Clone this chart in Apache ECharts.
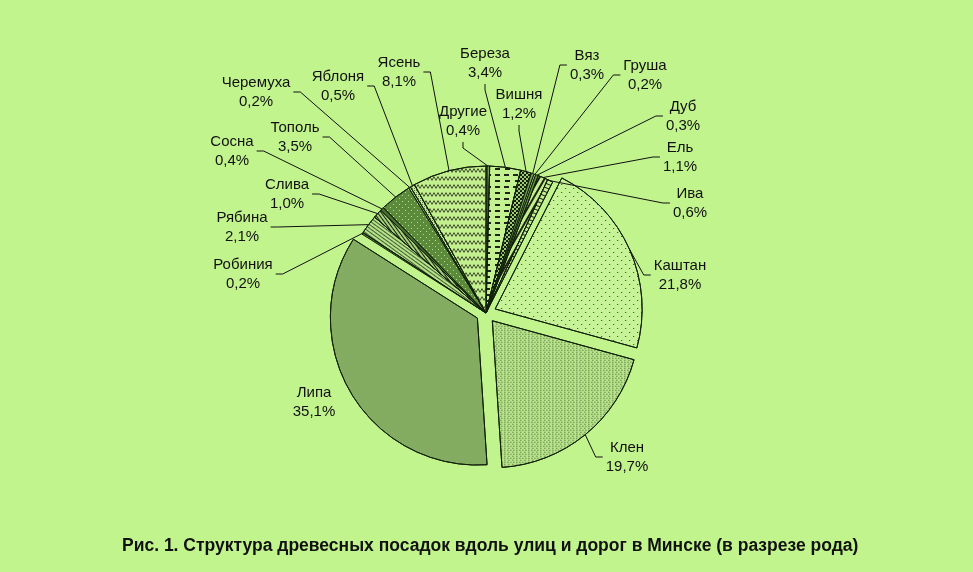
<!DOCTYPE html>
<html>
<head>
<meta charset="utf-8">
<script src="https://cdn.jsdelivr.net/npm/echarts@6/dist/echarts.min.js"></script>
<style>
html,body{margin:0;padding:0;background:#c2f48e;}
#c{width:973px;height:572px;}
</style>
</head>
<body>
<div id="c"></div>
<script>
// ---- data ----
var categories = ['Другие','Береза','Вишня','Вяз','Груша','Дуб','Ель','Ива','Каштан','Клен','Липа','Робиния','Рябина','Слива','Сосна','Тополь','Черемуха','Яблоня','Ясень'];
var values = [0.4, 3.4, 1.2, 0.3, 0.2, 0.3, 1.1, 0.6, 21.8, 19.7, 35.1, 0.2, 2.1, 1.0, 0.4, 3.5, 0.2, 0.5, 8.1];
var explodedNames = ['Каштан','Клен','Липа'];
var titleText = 'Рис. 1. Структура древесных посадок вдоль улиц и дорог в Минске (в разрезе рода)';

// ---- layout (label text block centres and leader-line side) ----
var labelCenters = [
  [463,121],[485,63],[519,104],[587,65],[645,75],[683,116],[680,157],[690,203],
  [680,275],[627,457],[314,402],[243,274],[242,227],[287,194],[232,151],[295,137],
  [256,92],[338,86],[399,72]
];
var labelSides = ['bottom','bottom','bottom','left','left','left','left','left',
  'left','left','none','right','right','right','right','right','right','right','right'];
var EXPLODE = 10;
var PIE_CENTER = [486, 313];
var PIE_R = 147;

// ---- styles ----
var BK = 'rgba(0,0,0,0.85)';
var sliceStyles = [
  {c:'#33521f', d:{symbol:'rect',color:'rgba(190,240,140,0.45)',dashArrayX:[1,1],dashArrayY:[1,0]}},
  {c:'#c4f292', d:{symbol:'rect',color:BK,dashArrayX:[[5,4],[0,4.5,5,0]],dashArrayY:[1.2,4]}},
  {c:'#9ccc74', d:{symbol:'rect',color:BK,dashArrayX:[[2,2],[0,2,2,0]],dashArrayY:[2,0]}},
  {c:'#6f9e50', d:null},
  {c:'#a6d67c', d:null},
  {c:'#5f8e40', d:null},
  {c:'#c2f08e', d:{symbol:'rect',color:BK,dashArrayX:[1,0],dashArrayY:[1.6,2.8],rotation:-Math.PI/3}},
  {c:'#c2f08e', d:{symbol:'rect',color:BK,dashArrayX:[1,0],dashArrayY:[1,2.5],rotation:Math.PI/8}},
  {c:'#c6f396', d:{symbol:'rect',color:'rgba(0,0,0,0.75)',dashArrayX:[[1,7],[0,4,1,3]],dashArrayY:[1,3]}},
  {c:'#b6e488', d:{symbol:'rect',color:'rgba(0,0,0,0.6)',dashArrayX:[[1,2],[0,1.5,1,0.5]],dashArrayY:[1,1]}},
  {c:'#a8d47e', d:{symbol:'rect',color:'rgba(20,45,10,0.48)',dashArrayX:[[1,1],[0,1,1,0]],dashArrayY:[1,0]}},
  {c:'#4f7a34', d:null},
  {c:'#b4e488', d:{symbol:'rect',color:'rgba(0,0,0,0.6)',dashArrayX:[1,0],dashArrayY:[1,2],rotation:Math.PI/5}},
  {c:'#a4d27a', d:{symbol:'rect',color:BK,dashArrayX:[1,1.2],dashArrayY:[1,0],rotation:-Math.PI/5}},
  {c:'#476e2e', d:null},
  {c:'#5a8a3a', d:{symbol:'rect',color:'rgba(205,245,160,0.8)',dashArrayX:[[1,5],[0,3,1,2]],dashArrayY:[1,2]}},
  {c:'#b8e88a', d:null},
  {c:'#bfee8e', d:{symbol:'rect',color:'rgba(0,0,0,0.5)',dashArrayX:[1,1],dashArrayY:[1,1]}},
  {c:'#c2f08e', d:{symbol:'path://M0,3 L2,0 L4,3 L6,0 L8,3 L8,4.2 L6,1.2 L4,4.2 L2,1.2 L0,4.2 Z',symbolSize:1,symbolKeepAspect:false,color:'rgba(0,0,0,0.8)',dashArrayX:[8,0],dashArrayY:[4.2,2.6]}}
];

function fmt(v){ return v.toFixed(1).replace('.', ',') + '%'; }
var FONT = 'Liberation Sans, Arial, sans-serif';

// main (drawn) slices
var pieData = categories.map(function(name, i){
  var st = sliceStyles[i];
  var item = {
    name: name,
    value: values[i],
    selected: explodedNames.indexOf(name) >= 0,
    itemStyle: {color: st.c, borderColor: '#10200a', borderWidth: 1}
  };
  if (st.d) item.itemStyle.decal = st.d;
  return item;
});

// transparent overlay that carries the labels and leader lines
var labelData = categories.map(function(name, i){
  var item = {name: name, value: values[i], itemStyle: {color: 'rgba(0,0,0,0)', borderWidth: 0}};
  if (labelSides[i] === 'none') item.labelLine = {show: false};
  return item;
});

var chart = echarts.init(document.getElementById('c'), null, {renderer: 'canvas'});
chart.setOption({
  backgroundColor: '#c2f48e',
  animation: false,
  title: {
    text: titleText,
    left: 117,
    top: 532,
    textStyle: {fontFamily: FONT, fontSize: 17.5, fontWeight: 'bold', color: '#111'}
  },
  series: [{
    type: 'pie',
    center: PIE_CENTER,
    radius: PIE_R,
    startAngle: 90,
    clockwise: true,
    selectedMode: 'multiple',
    selectedOffset: EXPLODE,
    avoidLabelOverlap: false,
    emphasis: {disabled: true},
    label: {show: false},
    labelLine: {show: false},
    data: pieData
  }, {
    type: 'pie',
    center: PIE_CENTER,
    radius: PIE_R,
    startAngle: 90,
    clockwise: true,
    silent: true,
    avoidLabelOverlap: false,
    emphasis: {disabled: true},
    z: 5,
    label: {
      show: true,
      position: 'outside',
      fontFamily: FONT,
      fontSize: 15,
      lineHeight: 19,
      color: '#111',
      align: 'center',
      formatter: function(p){ return p.name + '\n' + fmt(values[p.dataIndex]); }
    },
    labelLine: {show: true, length: 10, length2: 10, lineStyle: {color: '#111', width: 1}},
    labelLayout: function(params){
      var i = params.dataIndex;
      var c = labelCenters[i];
      var w = params.labelRect.width, h = params.labelRect.height;
      var side = labelSides[i];
      var out = {x: c[0], y: c[1], align: 'center', verticalAlign: 'middle', hideOverlap: false};
      var pts = params.labelLinePoints;
      if (side !== 'none' && pts && pts.length > 1) {
        var start = pts[0].slice();
        if (explodedNames.indexOf(categories[i]) >= 0) {
          var dx = pts[1][0] - pts[0][0], dy = pts[1][1] - pts[0][1];
          var L = Math.sqrt(dx*dx + dy*dy) || 1;
          start = [start[0] + dx / L * EXPLODE, start[1] + dy / L * EXPLODE];
        }
        var end, elbow;
        if (side === 'right') { end = [c[0] + w/2 + 3, c[1]]; elbow = [end[0] + 7, c[1]]; }
        else if (side === 'left') { end = [c[0] - w/2 - 3, c[1]]; elbow = [end[0] - 7, c[1]]; }
        else { end = [c[0], c[1] + h/2 + 2]; elbow = [end[0], end[1] + 6]; }
        out.labelLinePoints = [start, elbow, end];
      }
      return out;
    },
    data: labelData
  }]
});
</script>
</body>
</html>
